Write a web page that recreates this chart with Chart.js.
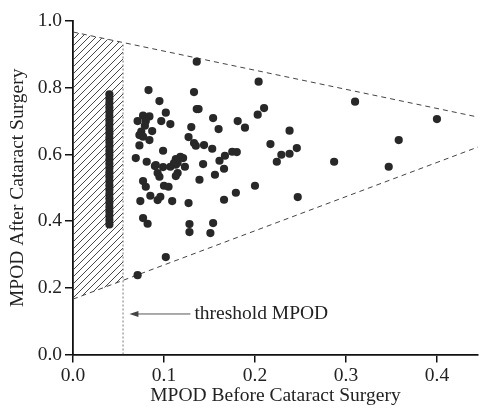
<!DOCTYPE html>
<html><head><meta charset="utf-8">
<script src="https://cdn.jsdelivr.net/npm/chart.js@4/dist/chart.umd.min.js"></script>
<style>html,body{margin:0;padding:0;background:#fff}</style>
</head><body>
<canvas id="c" width="482" height="408"></canvas>
<script>
// ---- data ----
const belowThresholdX = [0.04,0.04,0.04,0.04,0.04,0.04,0.04,0.04,0.04,0.04,0.04,0.04,0.04,0.04,0.04,0.04,0.04,0.04,0.04,0.04,0.04,0.04,0.04,0.04,0.04,0.04,0.04,0.04,0.04,0.04,0.04];
const belowThresholdY = [0.780,0.767,0.754,0.741,0.728,0.715,0.702,0.689,0.676,0.663,0.650,0.637,0.624,0.611,0.598,0.585,0.572,0.559,0.546,0.533,0.520,0.507,0.494,0.481,0.468,0.455,0.442,0.429,0.416,0.403,0.390];
const beforeX = [0.136,0.083,0.133,0.095,0.102,0.136,0.138,0.077,0.084,0.071,0.080,0.097,0.107,0.079,0.154,0.130,0.075,0.073,0.077,0.087,0.084,0.127,0.133,0.135,0.144,0.153,0.073,0.099,0.069,0.081,0.091,0.113,0.118,0.121,0.111,0.115,0.143,0.090,0.099,0.093,0.095,0.107,0.113,0.115,0.113,0.123,0.139,0.077,0.080,0.100,0.105,0.074,0.085,0.093,0.096,0.109,0.127,0.077,0.082,0.128,0.128,0.151,0.154,0.102,0.071,0.204,0.210,0.203,0.160,0.181,0.189,0.238,0.161,0.167,0.175,0.180,0.217,0.229,0.238,0.246,0.224,0.166,0.156,0.200,0.179,0.166,0.247,0.310,0.400,0.358,0.287,0.347];
const afterY  = [0.878,0.793,0.787,0.760,0.725,0.736,0.736,0.716,0.714,0.700,0.700,0.700,0.691,0.686,0.709,0.682,0.668,0.658,0.653,0.670,0.643,0.652,0.634,0.626,0.628,0.617,0.627,0.611,0.589,0.578,0.568,0.586,0.593,0.589,0.574,0.575,0.571,0.565,0.562,0.544,0.533,0.563,0.569,0.544,0.535,0.563,0.524,0.520,0.503,0.506,0.503,0.460,0.476,0.463,0.473,0.460,0.454,0.409,0.392,0.391,0.367,0.364,0.394,0.292,0.238,0.818,0.739,0.719,0.676,0.700,0.680,0.671,0.581,0.596,0.608,0.607,0.631,0.599,0.602,0.619,0.578,0.557,0.539,0.506,0.485,0.464,0.472,0.758,0.706,0.643,0.578,0.563];
const boundX = [0, 0.445];
const upperBoundY = [0.967, 0.712];
const lowerBoundY = [0.166, 0.622];
const thresholdX = 0.055;
const hatchX = [0, 0.055];
const hatchUpperY = [0.967, 0.935];
const hatchLowerY = [0.166, 0.222];
const thresholdLineY = [0, 0.935];
const arrowFromX = 0.129, arrowToX = 0.062, arrowY = 0.1215;
const arrowLabel = 'threshold MPOD';
const xTitle = 'MPOD Before Cataract Surgery';
const yTitle = 'MPOD After Cataract Surgery';

const toPts = (xs, ys) => xs.map((x, i) => ({x, y: ys[i]}));

// hatch pattern
const pc = document.createElement('canvas');
pc.width = 7; pc.height = 7;
const px = pc.getContext('2d');
px.strokeStyle = '#333'; px.lineWidth = 0.9;
px.beginPath();
px.moveTo(-1, 8); px.lineTo(8, -1);
px.moveTo(-1, 1); px.lineTo(1, -1);
px.moveTo(6, 8); px.lineTo(8, 6);
px.stroke();
const hatch = px.createPattern(pc, 'repeat');

const FONT = "'Liberation Serif','Times New Roman',serif";
const FS = 19.5;

const arrowPlugin = {
  id: 'arrowNote',
  afterDatasetsDraw(chart) {
    const {ctx, scales: {x, y}} = chart;
    const x1 = x.getPixelForValue(arrowFromX), x2 = x.getPixelForValue(arrowToX), yy = y.getPixelForValue(arrowY);
    ctx.save();
    ctx.strokeStyle = '#555'; ctx.fillStyle = '#444'; ctx.lineWidth = 1;
    ctx.beginPath(); ctx.moveTo(x1, yy); ctx.lineTo(x2 + 6, yy); ctx.stroke();
    ctx.beginPath(); ctx.moveTo(x2, yy); ctx.lineTo(x2 + 9, yy - 3); ctx.lineTo(x2 + 9, yy + 3); ctx.closePath(); ctx.fill();
    ctx.fillStyle = '#222';
    ctx.font = FS + 'px ' + FONT;
    ctx.textBaseline = 'middle'; ctx.textAlign = 'left';
    ctx.fillText(arrowLabel, x1 + 4, yy);
    ctx.restore();
  }
};

new Chart(document.getElementById('c'), {
  type: 'scatter',
  data: {
    datasets: [
      { label: 'after', data: toPts(beforeX, afterY), backgroundColor: '#282828', borderColor: '#282828', pointRadius: 4.1, pointBorderWidth: 0 },
      { label: 'below', data: toPts(belowThresholdX, belowThresholdY), backgroundColor: '#282828', borderColor: '#282828', pointRadius: 4.1, pointBorderWidth: 0 },
      { type: 'line', label: 'upper', data: toPts(boundX, upperBoundY), borderColor: '#444', borderWidth: 1, borderDash: [5, 4], pointRadius: 0, fill: false },
      { type: 'line', label: 'lower', data: toPts(boundX, lowerBoundY), borderColor: '#444', borderWidth: 1, borderDash: [5, 4], pointRadius: 0, fill: false },
      { type: 'line', label: 'threshold', data: toPts([thresholdX, thresholdX], thresholdLineY), borderColor: '#777', borderWidth: 1, borderDash: [2, 2], pointRadius: 0, fill: false },
      { type: 'line', label: 'hatchTop', data: toPts(hatchX, hatchUpperY), borderWidth: 0, borderColor: 'rgba(0,0,0,0)', pointRadius: 0, backgroundColor: hatch, fill: '+1' },
      { type: 'line', label: 'hatchBottom', data: toPts(hatchX, hatchLowerY), borderWidth: 0, borderColor: 'rgba(0,0,0,0)', pointRadius: 0, fill: false }
    ]
  },
  options: {
    responsive: false,
    animation: false,
    devicePixelRatio: 1,
    layout: { padding: { top: 21, right: 0, left: 0, bottom: 0 } },
    plugins: { legend: { display: false }, tooltip: { enabled: false } },
    scales: {
      x: {
        type: 'linear', min: 0, max: 0.445,
        afterFit: s => { s.height = 53.5; },
        border: { display: true, color: '#111', width: 1.8 },
        grid: { drawOnChartArea: false, drawTicks: true, tickLength: 8, color: '#111', lineWidth: 1.5 },
        ticks: { stepSize: 0.1, includeBounds: false, color: '#222', padding: 2, font: { family: FONT, size: FS }, callback: v => v.toFixed(1) },
        title: { display: true, text: xTitle, color: '#222', font: { family: FONT, size: FS }, padding: { top: 0, bottom: 0 } }
      },
      y: {
        type: 'linear', min: 0, max: 1.0,
        afterFit: s => { s.width = 73; },
        border: { display: true, color: '#111', width: 1.8 },
        grid: { drawOnChartArea: false, drawTicks: true, tickLength: 8, color: '#111', lineWidth: 1.5 },
        ticks: { stepSize: 0.2, color: '#222', padding: 3, font: { family: FONT, size: FS }, callback: v => v.toFixed(1) },
        title: { display: true, text: yTitle, color: '#222', font: { family: FONT, size: FS }, padding: { top: 6, bottom: 0 } }
      }
    }
  },
  plugins: [arrowPlugin]
});
</script>
</body></html>
